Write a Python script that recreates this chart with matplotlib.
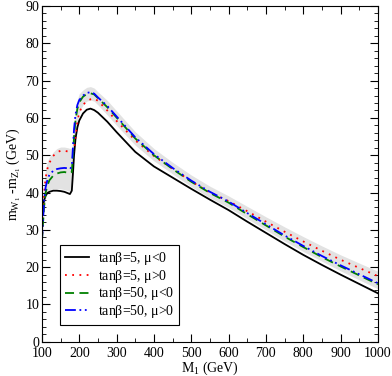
import matplotlib
matplotlib.use('Agg')
import matplotlib.pyplot as plt
from matplotlib.ticker import MultipleLocator

plt.rcParams['font.family'] = ['Liberation Serif', 'DejaVu Serif']
plt.rcParams['mathtext.fontset'] = 'custom'
plt.rcParams['mathtext.rm'] = 'Liberation Serif'
plt.rcParams['mathtext.it'] = 'Liberation Serif'

M1 = [100, 103, 106, 110, 115, 120, 130, 140, 150, 160, 170, 175, 180, 183, 186, 190, 195, 200,
      210, 220, 230, 240, 250, 275, 300, 350, 400, 450, 500, 550, 600, 650, 700, 750, 800, 850,
      900, 950, 1000]

# tanb=5, mu<0
black = [34.0, 36.5, 38.0, 39.2, 39.9, 40.2, 40.5, 40.5, 40.4, 40.2, 39.8, 39.6, 40.5, 45.0, 50.0,
         54.5, 57.5, 59.3, 61.2, 62.2, 62.5, 62.1, 61.4, 59.0, 56.2, 50.9, 47.0, 44.0, 41.0, 38.1,
         35.3, 32.2, 29.2, 26.2, 23.3, 20.6, 18.0, 15.5, 13.0]
# tanb=5, mu>0
red = [27.0, 34.0, 40.0, 44.0, 46.5, 48.0, 49.8, 50.8, 51.2, 51.2, 51.0, 50.8, 50.6, 50.8, 51.3,
       55.0, 59.0, 61.5, 63.5, 64.5, 65.0, 65.2, 64.6, 62.0, 59.2, 54.0, 49.8, 46.4, 43.0, 40.0,
       37.7, 35.0, 32.2, 29.5, 26.9, 24.4, 22.0, 19.8, 17.6]
# tanb=50, mu<0
green = [27.0, 32.0, 36.5, 40.0, 42.0, 43.3, 44.5, 45.1, 45.4, 45.5, 45.3, 45.1, 45.5, 50.0, 55.0,
         59.5, 62.5, 64.2, 65.7, 66.4, 66.6, 66.3, 65.3, 62.9, 60.1, 54.5, 50.0, 46.3, 42.9, 39.9,
         37.3, 34.2, 31.2, 28.2, 25.4, 22.7, 20.2, 17.8, 15.4]
# tanb=50, mu>0
blue = [27.0, 33.0, 38.0, 41.5, 43.5, 44.8, 45.8, 46.3, 46.5, 46.6, 46.5, 46.3, 47.0, 52.0, 57.0,
        61.0, 63.5, 64.8, 66.0, 66.7, 66.9, 66.5, 65.5, 63.2, 60.4, 54.8, 50.3, 46.6, 43.2, 40.2,
        37.6, 34.5, 31.5, 28.5, 25.7, 23.0, 20.5, 18.1, 15.7]

# grey scan points envelope
band_lo = [26.5, 31.0, 35.0, 38.5, 40.5, 40.8, 41.0, 41.0, 41.0, 40.8, 40.5, 40.3, 41.5, 46.0, 51.0,
           55.5, 59.0, 61.5, 63.5, 64.5, 64.8, 64.5, 63.5, 60.8, 58.0, 52.7, 48.5, 45.0, 41.6, 38.6,
           36.0, 33.0, 30.0, 27.0, 24.2, 21.6, 19.0, 16.6, 14.2]
band_hi = [28.0, 38.0, 43.0, 46.5, 48.5, 49.5, 50.8, 51.8, 52.2, 52.2, 52.0, 51.8, 52.0, 54.0, 58.0,
           62.0, 65.0, 66.5, 67.5, 68.2, 68.4, 68.0, 67.0, 64.7, 61.9, 56.3, 51.8, 48.1, 44.7, 41.7,
           39.1, 36.3, 33.5, 30.8, 28.2, 25.7, 23.3, 21.1, 18.9]

fig = plt.figure(figsize=(3.92, 3.76), dpi=100)
ax = fig.add_axes([0.107, 0.091, 0.857, 0.893])

ax.fill_between(M1, band_lo, band_hi, color='#e2e2e2', lw=0)
ax.plot(M1, black, color='black', lw=1.3, label=r'tan$\beta$=5, $\mu$<0')
ax.plot(M1, red, color='red', lw=1.3, ls=(0, (1, 3)), label=r'tan$\beta$=5, $\mu$>0')
ax.plot(M1, green, color='#008000', lw=1.3, ls=(0, (5, 3)), label=r'tan$\beta$=50, $\mu$<0')
ax.plot(M1, blue, color='blue', lw=1.3, ls=(0, (6, 2, 1, 2, 1, 2)), label=r'tan$\beta$=50, $\mu$>0')

ax.set_xlim(100, 1000)
ax.set_ylim(0, 90)
ax.xaxis.set_major_locator(MultipleLocator(100))
ax.xaxis.set_minor_locator(MultipleLocator(50))
ax.yaxis.set_major_locator(MultipleLocator(10))
ax.yaxis.set_minor_locator(MultipleLocator(2))
ax.tick_params(which='both', direction='in', top=True, right=True, labelsize=10, pad=2)
ax.tick_params(axis='x', pad=3.5)
ax.tick_params(which='major', length=6)
ax.tick_params(which='minor', length=3)

ax.set_xlabel(r'M$_1$ (GeV)', fontsize=10, labelpad=0)
ax.set_ylabel(r'm$_{W_1}$ -m$_{Z_1}$ (GeV)', fontsize=10, labelpad=2)

leg = ax.legend(loc='lower left', bbox_to_anchor=(0.054, 0.05), borderaxespad=0, fontsize=10,
                fancybox=False, edgecolor='black', framealpha=1, handlelength=1.7,
                borderpad=0.35, labelspacing=0.05, handletextpad=0.7)
leg.get_frame().set_linewidth(0.8)

fig.savefig('out.png', dpi=100)
